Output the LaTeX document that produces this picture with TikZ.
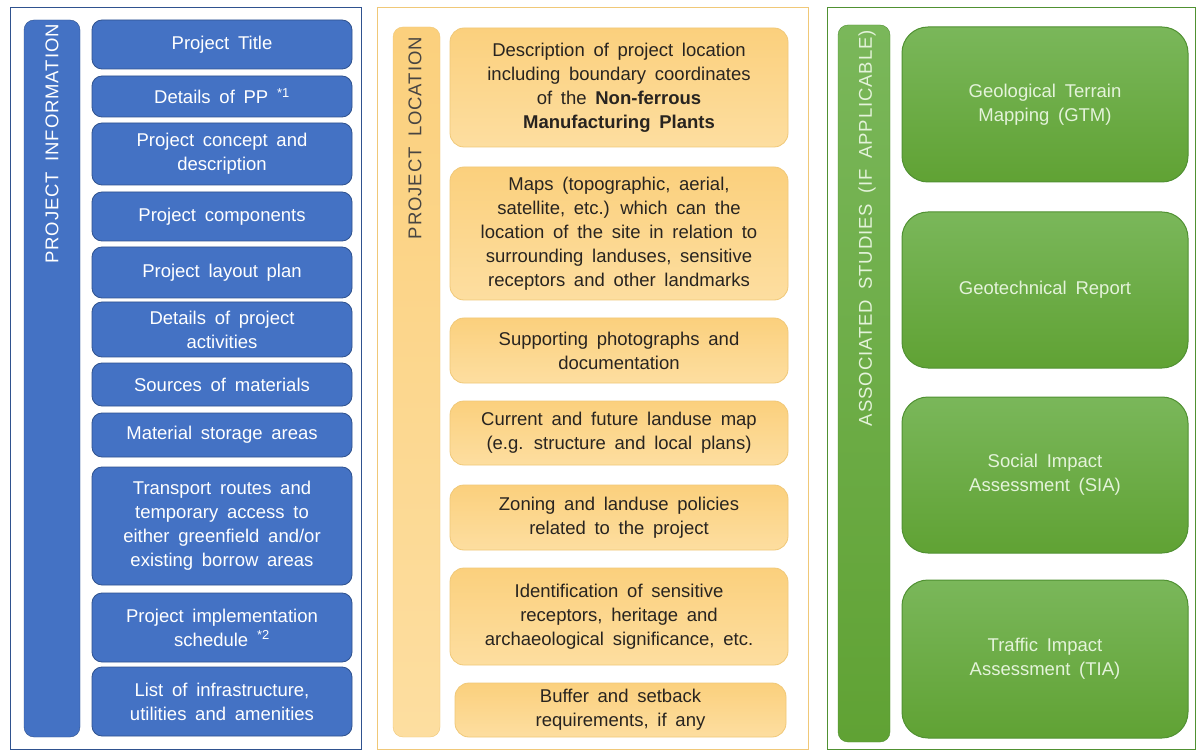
\documentclass[tikz,border=0pt]{standalone}
\usepackage{fontspec}
\setmainfont{Liberation Sans}[WordSpace=1.7]
\newfontfamily\barfont{Liberation Sans}[LetterSpace=5,WordSpace=1.7]
\usepackage{tikz}
\definecolor{infoblue}{RGB}{68,114,196}
\definecolor{infoedge}{RGB}{47,82,143}
\definecolor{locfill}{RGB}{251,208,125}
\definecolor{loclight}{RGB}{253,222,160}
\definecolor{locedge}{RGB}{240,200,120}
\definecolor{loctext}{RGB}{40,36,32}
\definecolor{studytop}{RGB}{122,183,90}
\definecolor{studybot}{RGB}{96,162,52}
\definecolor{studyedge}{RGB}{80,145,50}
\definecolor{studytext}{RGB}{228,243,218}
\tikzstyle{frame}=[draw, line width=1pt, fill=white]
\tikzstyle{info}=[fill=infoblue, draw=infoedge, line width=0.8pt, rounded corners=10pt, shape=rectangle, text=white, align=center, minimum width=260pt, font=\fontsize{18.5}{24}\selectfont]
\tikzstyle{loc}=[top color=locfill, bottom color=loclight, draw=locedge, line width=0.8pt, rounded corners=14pt, shape=rectangle, text=loctext, align=center, minimum width=338pt, font=\fontsize{18.5}{24}\selectfont]
\tikzstyle{study}=[top color=studytop, bottom color=studybot, draw=studyedge, line width=1pt, rounded corners=26pt, shape=rectangle, text=studytext, align=center, minimum width=286pt, font=\fontsize{18.5}{24}\selectfont]
\tikzstyle{bar}=[rounded corners=10pt, shape=rectangle, inner sep=0pt]
\tikzstyle{barlabel}=[rotate=90, anchor=east, inner sep=0pt, font=\barfont\fontsize{18.5}{24}\selectfont]

\begin{document}
\begin{tikzpicture}[x=1pt, y=-1pt]
	\useasboundingbox (0,0) rectangle (1197,751);
	% panels
	\draw [style=frame, draw=infoedge] (10,8) rectangle (361,749);
	\draw [style=frame, draw=locedge] (377,8) rectangle (808,749);
	\draw [style=frame, draw=studyedge] (827,8) rectangle (1195,749);
	% side bars
	\node [style=bar, fill=infoblue, draw=infoedge, minimum width=56pt, minimum height=717pt] (b1) at (52,378.5) {};
	\node [style=bar, top color=locfill, bottom color=loclight, draw=locedge, minimum width=47pt, minimum height=710pt] (b2) at (416.5,382) {};
	\node [style=bar, top color=studytop, bottom color=studybot, draw=studyedge, minimum width=52pt, minimum height=717pt] (b3) at (864,383.5) {};
	\node [style=barlabel, text=white] (l1) at (52,24) {PROJECT INFORMATION};
	\node [style=barlabel, text=loctext!85] (l2) at (415,37) {PROJECT LOCATION};
	\node [style=barlabel, text=studytext] (l3) at (867,30) {ASSOCIATED STUDIES (IF APPLICABLE)};
	% project information
	\node [style=info, minimum height=49pt] (0) at (222,44.5) {Project Title};
	\node [style=info, minimum height=41pt] (1) at (222,96.5) {Details of PP \textsuperscript{*1}};
	\node [style=info, minimum height=62pt] (2) at (222,154) {Project concept and\\description};
	\node [style=info, minimum height=49pt] (3) at (222,216.5) {Project components};
	\node [style=info, minimum height=51pt] (4) at (222,272.5) {Project layout plan};
	\node [style=info, minimum height=55pt] (5) at (222,329.5) {Details of project\\activities};
	\node [style=info, minimum height=43pt] (6) at (222,384.5) {Sources of materials};
	\node [style=info, minimum height=44pt] (7) at (222,435) {Material storage areas};
	\node [style=info, minimum height=118pt] (8) at (222,526) {Transport routes and\\temporary access to\\either greenfield and/or\\existing borrow areas};
	\node [style=info, minimum height=69pt] (9) at (222,627.5) {Project implementation\\schedule \textsuperscript{*2}};
	\node [style=info, minimum height=69pt] (10) at (222,701.5) {List of infrastructure,\\utilities and amenities};
	% project location
	\node [style=loc, minimum height=119pt] (11) at (619,87.5) {Description of project location\\including boundary coordinates\\of the \textbf{Non-ferrous}\\\textbf{Manufacturing Plants}};
	\node [style=loc, minimum height=133pt] (12) at (619,233.5) {Maps (topographic, aerial,\\satellite, etc.) which can the\\location of the site in relation to\\surrounding landuses, sensitive\\receptors and other landmarks};
	\node [style=loc, minimum height=65pt] (13) at (619,350.5) {Supporting photographs and\\documentation};
	\node [style=loc, minimum height=64pt] (14) at (619,433) {Current and future landuse map\\(e.g. structure and local plans)};
	\node [style=loc, minimum height=65pt] (15) at (619,517.5) {Zoning and landuse policies\\related to the project};
	\node [style=loc, minimum height=97pt] (16) at (619,616.5) {Identification of sensitive\\receptors, heritage and\\archaeological significance, etc.};
	\node [style=loc, minimum height=54pt, minimum width=331pt] (17) at (620.5,710) {Buffer and setback\\requirements, if any};
	% associated studies
	\node [style=study, minimum height=155pt] (18) at (1045,104.5) {Geological Terrain\\Mapping (GTM)};
	\node [style=study, minimum height=156pt] (19) at (1045,290) {Geotechnical Report};
	\node [style=study, minimum height=156pt] (20) at (1045,475) {Social Impact\\Assessment (SIA)};
	\node [style=study, minimum height=158pt] (21) at (1045,659) {Traffic Impact\\Assessment (TIA)};
\end{tikzpicture}
\end{document}
